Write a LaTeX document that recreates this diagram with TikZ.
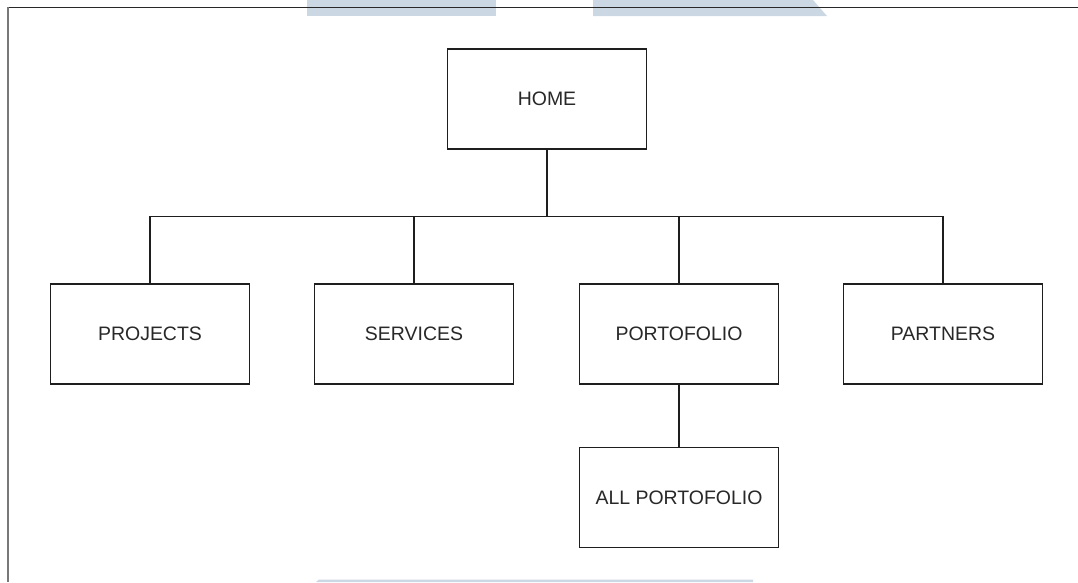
\documentclass[tikz,border=0pt]{standalone}
\usepackage{fontspec}
\setmainfont{Liberation Sans}
\usetikzlibrary{positioning}

\definecolor{markblue}{RGB}{203,216,228}
\definecolor{framegray}{RGB}{120,120,120}
\definecolor{textgray}{RGB}{40,40,40}

\tikzset{every picture/.style={line width=0.75pt}}
\tikzset{pagebox/.style={draw={rgb, 255:red, 30; green, 30; blue, 30}, line width=1pt, fill=white, minimum width=149.25pt, minimum height=75pt, inner sep=0.75pt, text=textgray, font=\fontsize{14.6}{17}\selectfont}}

\begin{document}
\begin{tikzpicture}[x=0.75pt,y=0.75pt,yscale=-1,xscale=1]
\useasboundingbox (0,0) rectangle (1078,582);

%Shapes (pale marks at the edges)
\fill [markblue] (307,0) -- (496,0) -- (496,16) -- (307,16) -- cycle ;
\fill [markblue] (593,0) -- (813,0) -- (827,16) -- (593,16) -- cycle ;
\fill [markblue] (316,582) -- (319,579.5) -- (753,579.5) -- (753,582) -- cycle ;

%Frame
\draw [color={rgb, 255:red, 40; green, 40; blue, 40 }] (8,7) -- (1078,7) ;
\draw [color=framegray, line width=1pt] (8,7) -- (8,582) ;

% Page Nodes
\node [pagebox] (home) at (547,99) {HOME};
\node [pagebox] (projects) at (150,334) {PROJECTS};
\node [pagebox] (services) at (414,334) {SERVICES};
\node [pagebox] (portofolio) at (679,334) {PORTOFOLIO};
\node [pagebox] (partners) at (943,334) {PARTNERS};
\node [pagebox, below=46.5pt of portofolio] (allportofolio) {ALL PORTOFOLIO};

%Connectors
\foreach \child in {projects,services,portofolio,partners}
  \draw [line width=1pt, color={rgb, 255:red, 30; green, 30; blue, 30 }] (home.south) -- ++(0,67) -| (\child.north) ;
\draw [line width=1pt, color={rgb, 255:red, 30; green, 30; blue, 30 }] (portofolio.south) -- (allportofolio.north) ;

\end{tikzpicture}
\end{document}
